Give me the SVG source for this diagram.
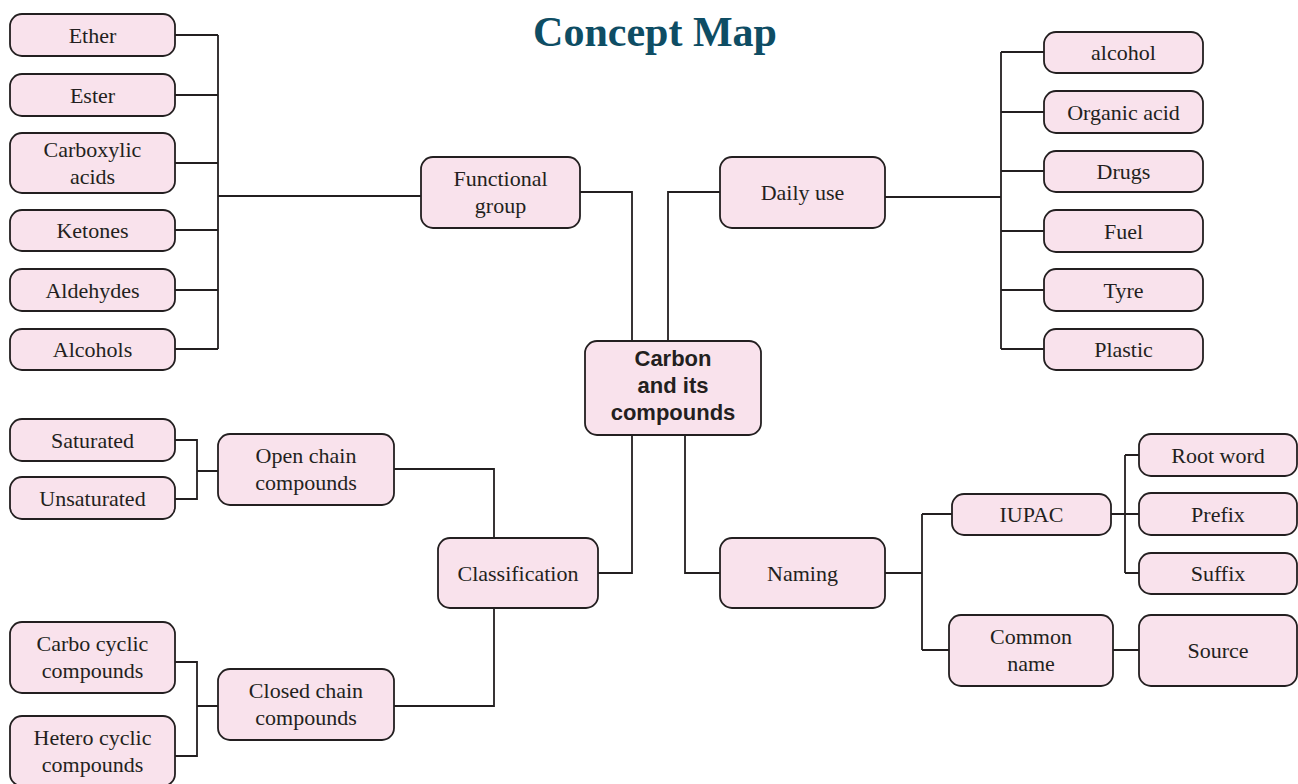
<svg xmlns="http://www.w3.org/2000/svg" width="1298" height="784" viewBox="0 0 1298 784">
<style>
.b{fill:#f9e2ec;stroke:#231f20;stroke-width:1.8}
.t{font-family:"Liberation Serif",serif;font-size:22px;fill:#231f20;text-anchor:middle}
.c{fill:none;stroke:#231f20;stroke-width:1.8}
.h{font-family:"Liberation Serif",serif;font-size:42px;font-weight:bold;fill:#0e4d64;text-anchor:middle}
.m{font-family:"Liberation Sans",Arial,sans-serif;font-size:22px;font-weight:bold;fill:#231f20;text-anchor:middle}
</style>
<rect width="1298" height="784" fill="#fff"/>
<text class="h" x="655" y="46">Concept Map</text>
<g id="connectors" class="c">
<path d="M175 35H218M175 95H218M175 163H218M175 230H218M175 290H218M175 349H218M218 35V349M218 196H421"/>
<path d="M580 192H632V341M720 192H668V341"/>
<path d="M632 435V573H598M685 435V573H720"/>
<path d="M885 197H1001M1001 52V349M1001 52H1044M1001 112H1044M1001 171H1044M1001 231H1044M1001 290H1044M1001 349H1044"/>
<path d="M394 469H494V538M394 706H494V608"/>
<path d="M175 440H197V499H175M197 471H218"/>
<path d="M175 662H197V756H175M197 706H218"/>
<path d="M885 573H922M922 514V650M922 514H952M922 650H949"/>
<path d="M1111 514H1139M1125 455V573M1125 455H1139M1125 573H1139M1113 650H1139"/>
</g>
<g id="ether"><rect class="b" x="10" y="14" width="165" height="42" rx="12"/><text class="t" x="92.5" y="42.5">Ether</text></g>
<g id="ester"><rect class="b" x="10" y="74" width="165" height="42" rx="12"/><text class="t" x="92.5" y="102.5">Ester</text></g>
<g id="carboxylic"><rect class="b" x="10" y="133" width="165" height="60" rx="12"/><text class="t" x="92.5" y="157">Carboxylic</text><text class="t" x="92.5" y="184">acids</text></g>
<g id="ketones"><rect class="b" x="10" y="210" width="165" height="41" rx="12"/><text class="t" x="92.5" y="238">Ketones</text></g>
<g id="aldehydes"><rect class="b" x="10" y="269" width="165" height="42" rx="12"/><text class="t" x="92.5" y="297.5">Aldehydes</text></g>
<g id="alcohols"><rect class="b" x="10" y="329" width="165" height="41" rx="12"/><text class="t" x="92.5" y="357">Alcohols</text></g>
<g id="functional"><rect class="b" x="421" y="157" width="159" height="71" rx="12"/><text class="t" x="500.5" y="186">Functional</text><text class="t" x="500.5" y="213">group</text></g>
<g id="daily"><rect class="b" x="720" y="157" width="165" height="71" rx="12"/><text class="t" x="802.5" y="200">Daily use</text></g>
<g id="carbon"><rect class="b" x="585" y="341" width="176" height="94" rx="12"/><text class="m" x="673" y="366">Carbon</text><text class="m" x="673" y="393">and its</text><text class="m" x="673" y="420">compounds</text></g>
<g id="alcohol"><rect class="b" x="1044" y="32" width="159" height="41" rx="12"/><text class="t" x="1123.5" y="60">alcohol</text></g>
<g id="organic"><rect class="b" x="1044" y="91" width="159" height="42" rx="12"/><text class="t" x="1123.5" y="119.5">Organic acid</text></g>
<g id="drugs"><rect class="b" x="1044" y="151" width="159" height="41" rx="12"/><text class="t" x="1123.5" y="179">Drugs</text></g>
<g id="fuel"><rect class="b" x="1044" y="210" width="159" height="42" rx="12"/><text class="t" x="1123.5" y="238.5">Fuel</text></g>
<g id="tyre"><rect class="b" x="1044" y="269" width="159" height="42" rx="12"/><text class="t" x="1123.5" y="297.5">Tyre</text></g>
<g id="plastic"><rect class="b" x="1044" y="329" width="159" height="41" rx="12"/><text class="t" x="1123.5" y="357">Plastic</text></g>
<g id="saturated"><rect class="b" x="10" y="419" width="165" height="42" rx="12"/><text class="t" x="92.5" y="447.5">Saturated</text></g>
<g id="unsaturated"><rect class="b" x="10" y="477" width="165" height="42" rx="12"/><text class="t" x="92.5" y="505.5">Unsaturated</text></g>
<g id="open"><rect class="b" x="218" y="434" width="176" height="71" rx="12"/><text class="t" x="306" y="463">Open chain</text><text class="t" x="306" y="490">compounds</text></g>
<g id="classification"><rect class="b" x="438" y="538" width="160" height="70" rx="12"/><text class="t" x="518" y="580.5">Classification</text></g>
<g id="naming"><rect class="b" x="720" y="538" width="165" height="70" rx="12"/><text class="t" x="802.5" y="580.5">Naming</text></g>
<g id="closed"><rect class="b" x="218" y="669" width="176" height="71" rx="12"/><text class="t" x="306" y="698">Closed chain</text><text class="t" x="306" y="725">compounds</text></g>
<g id="carbocyclic"><rect class="b" x="10" y="622" width="165" height="71" rx="12"/><text class="t" x="92.5" y="651">Carbo cyclic</text><text class="t" x="92.5" y="678">compounds</text></g>
<g id="heterocyclic"><rect class="b" x="10" y="716" width="165" height="70" rx="12"/><text class="t" x="92.5" y="745">Hetero cyclic</text><text class="t" x="92.5" y="772">compounds</text></g>
<g id="iupac"><rect class="b" x="952" y="494" width="159" height="41" rx="12"/><text class="t" x="1031.5" y="522">IUPAC</text></g>
<g id="common"><rect class="b" x="949" y="615" width="164" height="71" rx="12"/><text class="t" x="1031" y="644">Common</text><text class="t" x="1031" y="671">name</text></g>
<g id="root"><rect class="b" x="1139" y="434" width="158" height="42" rx="12"/><text class="t" x="1218" y="462.5">Root word</text></g>
<g id="prefix"><rect class="b" x="1139" y="493" width="158" height="42" rx="12"/><text class="t" x="1218" y="521.5">Prefix</text></g>
<g id="suffix"><rect class="b" x="1139" y="553" width="158" height="41" rx="12"/><text class="t" x="1218" y="581">Suffix</text></g>
<g id="source"><rect class="b" x="1139" y="615" width="158" height="71" rx="12"/><text class="t" x="1218" y="657.5">Source</text></g>
</svg>
